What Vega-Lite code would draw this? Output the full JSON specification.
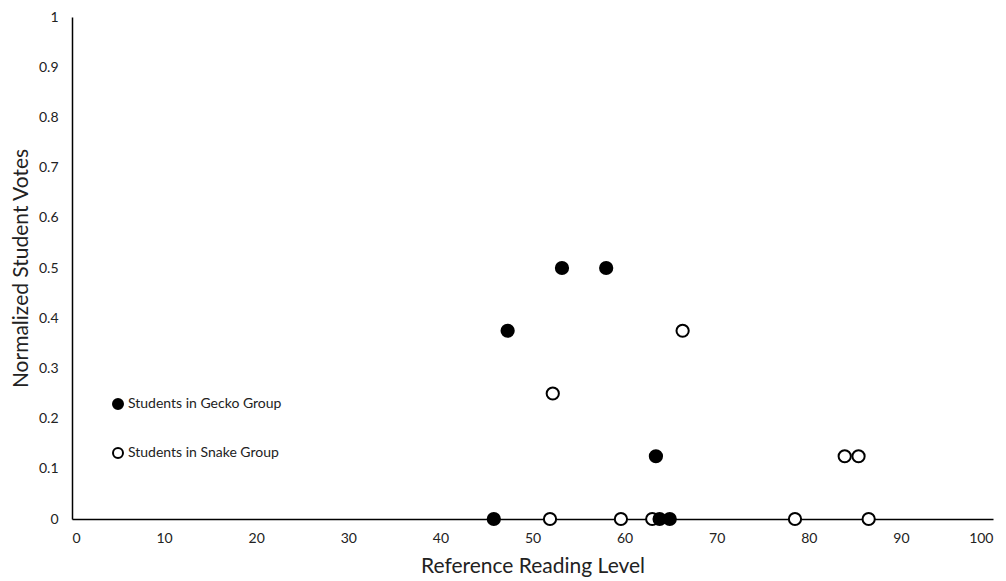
{
  "$schema": "https://vega.github.io/schema/vega-lite/v6.json",
  "width": 921,
  "height": 502,
  "autosize": {"type": "none"},
  "padding": {"left": 72, "top": 17, "right": 13, "bottom": 62},
  "background": "white",
  "config": {
    "view": {"stroke": null},
    "font": "Lato",
    "axis": {"grid": false, "ticks": false, "domainColor": "black", "domainWidth": 1.5, "labelColor": "#222", "labelFont": "Lato", "labelFontSize": 14, "titleFont": "Lato", "titleFontSize": 21, "titleFontWeight": "normal", "titleColor": "#222"}
  },
  "data": {
    "values": [
      {"level": 45.8, "votes": 0, "group": "Students in Gecko Group"},
      {"level": 47.3, "votes": 0.375, "group": "Students in Gecko Group"},
      {"level": 53.2, "votes": 0.5, "group": "Students in Gecko Group"},
      {"level": 58.0, "votes": 0.5, "group": "Students in Gecko Group"},
      {"level": 63.4, "votes": 0.125, "group": "Students in Gecko Group"},
      {"level": 51.9, "votes": 0, "group": "Students in Snake Group"},
      {"level": 52.2, "votes": 0.25, "group": "Students in Snake Group"},
      {"level": 59.6, "votes": 0, "group": "Students in Snake Group"},
      {"level": 63.0, "votes": 0, "group": "Students in Snake Group"},
      {"level": 66.3, "votes": 0.375, "group": "Students in Snake Group"},
      {"level": 78.5, "votes": 0, "group": "Students in Snake Group"},
      {"level": 83.9, "votes": 0.125, "group": "Students in Snake Group"},
      {"level": 85.4, "votes": 0.125, "group": "Students in Snake Group"},
      {"level": 86.5, "votes": 0, "group": "Students in Snake Group"},
      {"level": 63.8, "votes": 0, "group": "Students in Gecko Group"},
      {"level": 64.9, "votes": 0, "group": "Students in Gecko Group"}
    ]
  },
  "mark": {"type": "point", "filled": false, "size": 150, "stroke": "black", "strokeWidth": 2, "opacity": 1},
  "encoding": {
    "x": {"field": "level", "type": "quantitative", "scale": {"domain": [0, 100], "nice": false}, "axis": {"values": [0,10,20,30,40,50,60,70,80,90,100], "labelPadding": 12, "title": "Reference Reading Level", "titlePadding": 10}},
    "y": {"field": "votes", "type": "quantitative", "scale": {"domain": [0, 1], "nice": false}, "axis": {"values": [0,0.1,0.2,0.3,0.4,0.5,0.6,0.7,0.8,0.9,1], "format": "~g", "labelPadding": 14, "title": "Normalized Student Votes", "titlePadding": 7}},
    "fill": {"field": "group", "type": "nominal", "scale": {"domain": ["Students in Gecko Group", "Students in Snake Group"], "range": ["black", "white"]},
      "legend": {"title": null, "orient": "none", "legendX": 39, "legendY": 380, "padding": 0, "rowPadding": 31, "symbolSize": 100, "symbolStrokeColor": "black", "symbolStrokeWidth": 2, "symbolType": "circle", "labelFont": "Lato", "labelFontSize": 14, "labelColor": "#222", "labelOffset": 3}}
  }
}
